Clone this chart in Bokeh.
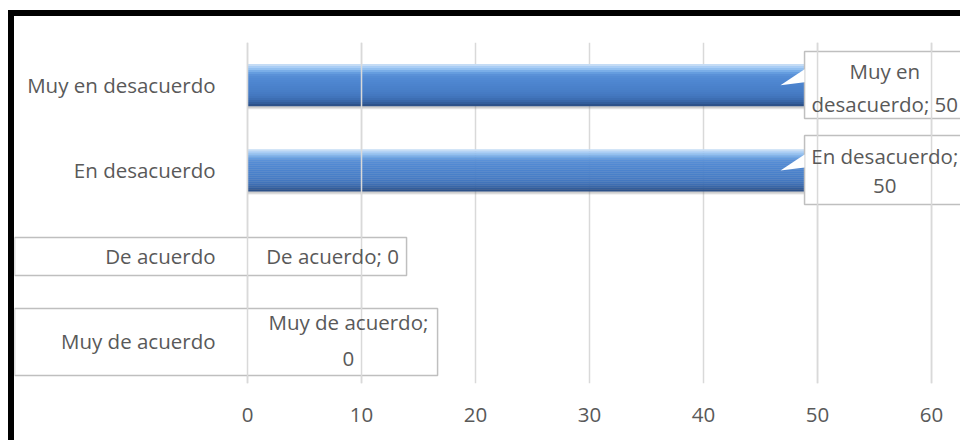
from bokeh.plotting import figure
from bokeh.models import FixedTicker, Range1d, Spacer
from bokeh.layouts import row, column
from bokeh.core.properties import value
from bokeh.embed import file_html
from bokeh.resources import INLINE

# ---- data ----
categories = ["Muy de acuerdo", "De acuerdo", "En desacuerdo", "Muy en desacuerdo"]
values = [0, 0, 50, 50]
x_ticks = [0, 10, 20, 30, 40, 50, 60]

# ---- data-label layout (boxes and text lines) ----
words_first_line = [3, 3, 2, 2]
box_left = [-20.44, -20.44, 48.86, 48.86]
box_right = [16.67, 13.95, 66.0, 66.0]
box_bottom = [0.094, 1.267, 2.100, 3.108]
box_top = [0.880, 1.713, 2.909, 3.894]
line_x = [8.85, 7.46, 55.9, 55.9]
line1_y = [0.727, 1.490, 2.674, 3.660]
line2_y = [0.282, None, 2.311, 3.284]

FONT = "Open Sans"
TXT = "#595959"
FS = "20.5px"


def strip(w, h):
    s = figure(width=w, height=h, x_range=Range1d(0, 1), y_range=Range1d(0, 1),
               title=None, output_backend="svg", toolbar_location=None,
               min_border=0, background_fill_color="black",
               border_fill_color="black",
               styles={"background-color": "black"})
    s.axis.visible = False
    s.grid.visible = False
    s.outline_line_color = None
    s.quad(left=[0], right=[1], bottom=[0], top=[1], fill_color="black", line_color=None)
    return s


p = figure(width=946, height=424,
           x_range=Range1d(-20.44, 62.54), y_range=Range1d(0, 4),
           output_backend="svg", toolbar_location=None,
           min_border_left=0, min_border_right=0,
           min_border_top=26, min_border_bottom=57,
           background_fill_color="white", border_fill_color="white")
p.outline_line_color = None

# axes
p.xaxis.ticker = FixedTicker(ticks=x_ticks)
p.xaxis.axis_line_color = None
p.xaxis.major_tick_line_color = None
p.xaxis.minor_tick_line_color = None
p.xaxis.major_label_text_font = FONT
p.xaxis.major_label_text_font_size = FS
p.xaxis.major_label_text_color = TXT
p.xaxis.major_label_standoff = 18

centers = [i + 0.5 for i in range(len(categories))]
p.yaxis.fixed_location = 0
p.yaxis.ticker = FixedTicker(ticks=centers)
p.yaxis.major_label_overrides = {c: cat for c, cat in zip(centers, categories)}
p.yaxis.axis_line_color = None
p.yaxis.major_tick_line_color = None
p.yaxis.minor_tick_line_color = None
p.yaxis.major_label_text_font = FONT
p.yaxis.major_label_text_font_size = FS
p.yaxis.major_label_text_color = TXT
p.yaxis.major_label_standoff = 26

p.xgrid.ticker = FixedTicker(ticks=x_ticks)
p.xgrid.grid_line_color = "#d9d9d9"
p.xgrid.grid_line_width = 1.5
p.ygrid.visible = False

# ---- bars: shadow + vertical gradient slices ----
px = 1.0 / 85.25
bar_h = 42 * px
for off, alpha in [(3, 0.18), (2, 0.25)]:
    p.hbar(y=[c - off * px for c in centers], left=0, right=values, height=bar_h,
           fill_color="#7f7f7f", fill_alpha=alpha, line_color=None)

slice_colors = ["#c5dcf5", "#a9cdf5", "#93c0f0", "#7aaee8", "#659ddf", "#5a91d8",
                "#548cd4", "#5189d3", "#4f87d1", "#4d85cf", "#4c83cd", "#4a81cb",
                "#4980c9", "#487ec7", "#467bc4", "#4478c0", "#4174bb", "#3d6eb3",
                "#3866a8", "#325d9b", "#2c5189"]
n = len(slice_colors)
sh = bar_h / n
for i, col in enumerate(slice_colors):
    off = bar_h / 2 - sh * (i + 0.5)
    p.hbar(y=[c + off for c in centers], left=0, right=values, height=sh * 1.05,
           fill_color=col, line_color=None)

# ---- data-label boxes ----
p.quad(left=box_left, right=box_right, bottom=box_bottom, top=box_top,
       fill_color="white", line_color="#bfbfbf", line_width=1.5)

# callout pointers for non-zero bars
tri_xs, tri_ys = [], []
for c, v in zip(centers, values):
    if v > 0:
        tri_xs.append([v - 3.25, v - 1.14, v - 1.14])
        tri_ys.append([c, c + 16 * px, c + 3 * px])
p.patches(xs=tri_xs, ys=tri_ys, fill_color="white", line_color=None)

# gridlines that show through the labels in the original
over = [t for t in x_ticks if t in (0, 10, 50, 60)]
p.segment(x0=over, x1=over, y0=0, y1=4, line_color="#d9d9d9", line_width=1.5)

# ---- data-label texts ----
tx, ty, tt = [], [], []
for cat, v, k, lx, y1, y2 in zip(categories, values, words_first_line, line_x, line1_y, line2_y):
    words = f"{cat}; {v}".split(" ")
    first = " ".join(words[:k])
    rest = " ".join(words[k:])
    tx.append(lx); ty.append(y1); tt.append(first)
    if rest:
        tx.append(lx); ty.append(y2); tt.append(rest)
p.text(x=tx, y=ty, text=tt, text_font=value(FONT), text_font_size=FS,
       text_color=TXT, text_align="center", text_baseline="middle")

layout = column(
    Spacer(width=960, height=10),
    row(Spacer(width=8, height=430), strip(6, 430),
        column(strip(946, 6), p, spacing=0), spacing=0),
    spacing=0)

open("out.html", "w").write(file_html(layout, INLINE))
